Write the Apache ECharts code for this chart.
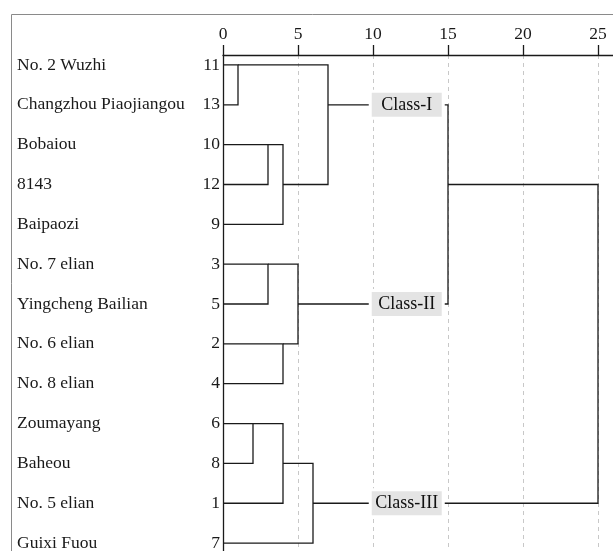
<!DOCTYPE html>
<html>
<head>
<meta charset="utf-8">
<script src="https://cdn.jsdelivr.net/npm/echarts@6/dist/echarts.min.js"></script>
<style>
html, body { margin: 0; padding: 0; background: #fff; }
#chart { width: 613px; height: 551px; }
</style>
</head>
<body>
<div id="chart"></div>
<script>
// 叶节点，自上而下
const leafNames = ['No. 2 Wuzhi', 'Changzhou Piaojiangou', 'Bobaiou', '8143', 'Baipaozi',
    'No. 7 elian', 'Yingcheng Bailian', 'No. 6 elian', 'No. 8 elian',
    'Zoumayang', 'Baheou', 'No. 5 elian', 'Guixi Fuou']
const leafIds = [11, 13, 10, 12, 9, 3, 5, 2, 4, 6, 8, 1, 7]
// 合并: [子节点A, 子节点B, 距离, 输出行]  (新节点编号从13开始)
const merges = [
    [0, 1, 1, 0],
    [2, 3, 3, 2],
    [14, 4, 4, 3],
    [13, 15, 7, 1],
    [5, 6, 3, 5],
    [7, 8, 4, 7],
    [17, 18, 5, 6],
    [9, 10, 2, 9],
    [20, 11, 4, 10],
    [21, 12, 6, 11],
    [16, 19, 15, 3],
    [23, 22, 25, 11]
]
const classNames = ['Class-I', 'Class-II', 'Class-III']
const classNodes = [16, 19, 22]
const rowIndex = leafIds.map((_, i) => i)

let font = "'Liberation Serif', 'Times New Roman', serif"
let ink = '#1a1a1a'

// 节点高度与行位置
let nodeH = leafIds.map(() => 0)
let nodeRow = rowIndex.slice()
let links = []
merges.forEach(m => {
    let [a, b, h, row] = m
    links.push({
        coords: [[nodeH[a], nodeRow[a]], [h, nodeRow[a]], [h, nodeRow[b]], [nodeH[b], nodeRow[b]]]
    })
    nodeH.push(h)
    nodeRow.push(row)
})
let labelX = 12.25
let classPoints = classNodes.map((n, i) => ({ name: classNames[i], value: [labelX, nodeRow[n]] }))

let myChart = echarts.init(document.getElementById('chart'))
let option = {
    animation: false,
    graphic: [{
        type: 'rect',
        shape: { x: 11.5, y: 14.5, width: 800, height: 800 },
        style: { fill: 'none', stroke: '#8a8a8a', lineWidth: 1 },
        silent: true
    }],
    grid: { left: 223, top: 55, right: -30, bottom: -12, outerBoundsMode: 'none', containLabel: false },
    xAxis: {
        type: 'value',
        position: 'top',
        min: 0,
        max: 28,
        interval: 5,
        axisLine: { show: true, onZero: false, lineStyle: { color: ink, width: 1.3 } },
        axisTick: { show: true, length: 10, lineStyle: { color: ink, width: 1.3 } },
        axisLabel: { fontSize: 17.5, color: '#1a1a1a', margin: 12, fontFamily: font },
        splitLine: { show: true, lineStyle: { type: [4, 4], color: '#c8c8c8', width: 1 } }
    },
    yAxis: [{
        type: 'value',
        inverse: true,
        min: -0.25,
        max: 12.5,
        axisLine: { show: true, onZero: false, lineStyle: { color: ink, width: 1.3 } },
        axisTick: { show: false },
        splitLine: { show: false },
        axisLabel: {
            customValues: rowIndex,
            formatter: v => (leafIds[v] !== undefined && Number.isInteger(v)) ? String(leafIds[v]) : '',
            margin: 3,
            fontSize: 17.5,
            color: '#1a1a1a',
            fontFamily: font
        }
    }, {
        type: 'value',
        inverse: true,
        min: -0.25,
        max: 12.5,
        position: 'left',
        axisLine: { show: false },
        axisTick: { show: false },
        splitLine: { show: false },
        axisLabel: {
            customValues: rowIndex,
            formatter: v => (leafNames[v] !== undefined && Number.isInteger(v)) ? leafNames[v] : '',
            margin: 206,
            align: 'left',
            fontSize: 17.5,
            color: '#1a1a1a',
            fontFamily: font
        }
    }],
    series: [{
        type: 'lines',
        coordinateSystem: 'cartesian2d',
        polyline: true,
        silent: true,
        z: 2,
        lineStyle: { color: ink, width: 1.3, opacity: 1 },
        data: links
    }, {
        type: 'scatter',
        symbolSize: 0,
        itemStyle: { color: 'rgba(0,0,0,0)', opacity: 1 },
        silent: true,
        zlevel: 1,
        z: 5,
        data: classPoints,
        label: {
            show: true,
            position: 'inside',
            formatter: '{b}',
            fontSize: 18,
            fontFamily: font,
            color: '#111',
            opacity: 1,
            backgroundColor: '#e4e4e4',
            borderColor: '#fff',
            borderWidth: 3,
            padding: [3, 5],
            width: 60,
            align: 'center',
            lineHeight: 18
        }
    }]
}
myChart.setOption(option)
window.addEventListener('resize', function () {
    myChart.resize()
})
</script>
</body>
</html>
